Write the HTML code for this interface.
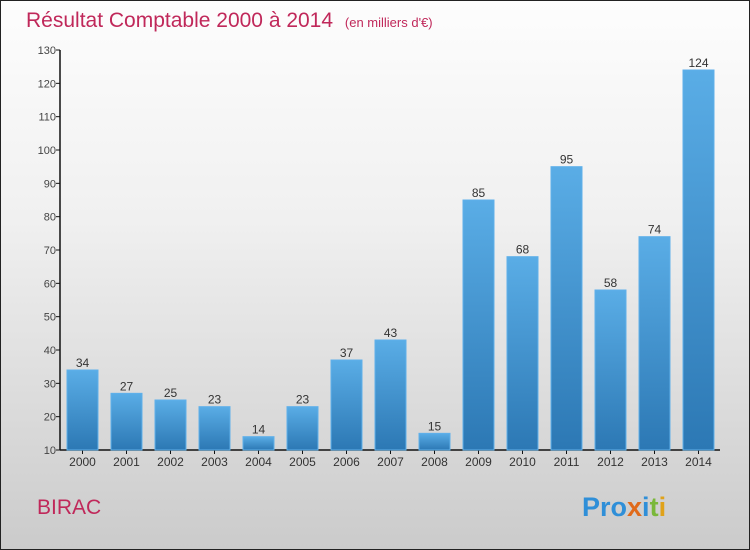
<!DOCTYPE html>
<html><head><meta charset="utf-8"><style>
body{margin:0;width:750px;height:550px;overflow:hidden;font-family:"Liberation Sans",sans-serif}
#wrap{position:absolute;left:0;top:0;width:748px;height:548px;border:1px solid #222;background:linear-gradient(#fdfdfd,#f0f0f0 40%,#cbcbcb)}
</style></head><body>
<div id="wrap">
<svg width="750" height="550" viewBox="0 0 750 550" style="position:absolute;left:-1px;top:-1px">
<defs><linearGradient id="bg" x1="0" y1="0" x2="0" y2="1"><stop offset="0" stop-color="#5aade6"/><stop offset="1" stop-color="#2c78b4"/></linearGradient></defs>
<text x="26" y="27" font-size="21" fill="#c0285a">Résultat Comptable 2000 à 2014 <tspan font-size="13" dx="6">(en milliers d'€)</tspan></text>
<g id="axes"></g>
<g id="bars"></g>
<text x="37" y="514" font-size="21" fill="#c0285a">BIRAC</text>
<text x="582" y="516" font-size="27" font-weight="bold"><tspan fill="#2f8fd8">Pro</tspan><tspan fill="#e06a1a">x</tspan><tspan fill="#2f8fd8">i</tspan><tspan fill="#7ab83a">t</tspan><tspan fill="#e0a21a">i</tspan></text>
</svg></div>
<script>
const years=["2000","2001","2002","2003","2004","2005","2006","2007","2008","2009","2010","2011","2012","2013","2014"];
const values=[34,27,25,23,14,23,37,43,15,85,68,95,58,74,124];
const yTicks=[10,20,30,40,50,60,70,80,90,100,110,120,130];
const NS="http://www.w3.org/2000/svg";
const y=v=>450-(v-10)*400/120;
const x=i=>82.5+i*44;
function mk(t,a,p){const e=document.createElementNS(NS,t);for(const k in a)e.setAttribute(k,a[k]);p.appendChild(e);return e;}
const ax=document.getElementById('axes'),bg=document.getElementById('bars');
const yl=mk('line',{x1:60,y1:50,x2:60,y2:450,stroke:'#111','stroke-width':1.5},ax);


const xl=mk('line',{x1:60,y1:450,x2:720,y2:450,stroke:'#111','stroke-width':1.5},ax);


yTicks.forEach(v=>{
 mk('line',{x1:56,y1:y(v),x2:60,y2:y(v),stroke:'#111'},ax);
 const t=mk('text',{x:56,y:y(v)+4,'text-anchor':'end','font-size':11,fill:'#444'},ax);t.textContent=v;
 
 
});
years.forEach((yr,i)=>{
 const v=values[i];
 const r=mk('rect',{x:x(i)-15.5,y:y(v),width:31,height:450-y(v),fill:'url(#bg)',stroke:'#5fb0ea','stroke-width':1},bg);
 
 
 const l=mk('text',{x:x(i),y:y(v)-3,'text-anchor':'middle','font-size':12,fill:'#333'},bg);l.textContent=v;
 
 
 mk('line',{x1:x(i),y1:450,x2:x(i),y2:454,stroke:'#111'},ax);
 const t=mk('text',{x:x(i),y:466,'text-anchor':'middle','font-size':12,fill:'#333'},ax);t.textContent=yr;
 
 
});
</script>
</body></html>
